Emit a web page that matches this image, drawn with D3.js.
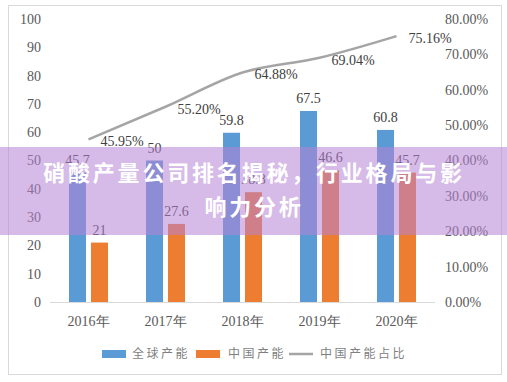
<!DOCTYPE html>
<html><head><meta charset="utf-8">
<script src="https://cdn.jsdelivr.net/npm/d3@7/dist/d3.min.js"></script>
<style>body{margin:0;background:#fff;}svg{display:block;}</style>
</head><body>
<svg id="chart" width="507" height="382"></svg>
<script>
const years = ["2016年","2017年","2018年","2019年","2020年"];
const globalCap = [45.7, 50, 59.8, 67.5, 60.8];
const chinaCap = [21, 27.6, 38.8, 46.6, 45.7];
const chinaShare = [0.4595, 0.5520, 0.6488, 0.6904, 0.7516];
const leftTicks = [0,10,20,30,40,50,60,70,80,90,100];
const rightTicks = [0,0.1,0.2,0.3,0.4,0.5,0.6,0.7,0.8];
const seriesNames = ["全球产能","中国产能","中国产能占比"];
const colors = ["#5b9bd5","#ed7d31","#a5a5a5"];
const titleLines = ["硝酸产量公司排名揭秘，行业格局与影","响力分析"];

const svg = d3.select("#chart");
const serif = "'Liberation Serif','DejaVu Serif',serif";
const cjk = "'Noto Sans CJK SC','Noto Sans',sans-serif";

svg.append("rect").attr("x",8.5).attr("y",5.5).attr("width",493).attr("height",369)
  .attr("fill","#fff").attr("stroke","#d9d9d9");

const x = d3.scaleBand().domain(years).range([50,435]);
const x1 = d3.scaleBand().domain(["g","c"]).range([19,58]).paddingInner(5/22);
const y = d3.scaleLinear().domain([0,100]).range([302,19]);
const y2 = d3.scaleLinear().domain([0,0.8]).range([302,19]);

// left axis labels
svg.append("g").selectAll("text").data(leftTicks).join("text")
  .attr("x",41).attr("y",d=>y(d)).attr("dy","0.35em").attr("text-anchor","end")
  .attr("font-family",serif).attr("font-size",14).attr("fill","#595959").text(d=>d);
// right axis labels
svg.append("g").selectAll("text").data(rightTicks).join("text")
  .attr("x",445).attr("y",d=>y2(d)).attr("dy","0.35em").attr("text-anchor","start")
  .attr("font-family",serif).attr("font-size",14).attr("fill","#595959").text(d=>d3.format(".2%")(d));

// baseline
svg.append("line").attr("x1",50).attr("x2",435).attr("y1",y(0)+0.5).attr("y2",y(0)+0.5)
  .attr("stroke","#d9d9d9");

// category labels
svg.append("g").selectAll("text").data(years).join("text")
  .attr("x",d=>x(d)+x.bandwidth()/2).attr("y",321).attr("dy","0.35em").attr("text-anchor","middle")
  .attr("font-family",serif).attr("font-size",14).attr("fill","#595959").text(d=>d);

// bars
const bars = svg.append("g");
years.forEach((yr,i)=>{
  [["g",globalCap[i],colors[0]],["c",chinaCap[i],colors[1]]].forEach(([k,v,c])=>{
    const bx = x(yr)+x1(k);
    bars.append("rect").attr("x",bx).attr("y",y(v)).attr("width",x1.bandwidth())
      .attr("height",y(0)-y(v)).attr("fill",c);
    bars.append("text").attr("x",bx+x1.bandwidth()/2).attr("y",y(v)-8)
      .attr("text-anchor","middle").attr("font-family",serif).attr("font-size",14)
      .attr("fill","#404040").text(v);
  });
});

// line
const pts = years.map((yr,i)=>[x(yr)+x.bandwidth()/2, y2(chinaShare[i])]);
svg.append("path").attr("d",d3.line().curve(d3.curveMonotoneX)(pts))
  .attr("fill","none").attr("stroke",colors[2]).attr("stroke-width",2.5);
svg.append("g").selectAll("text").data(years).join("text")
  .attr("x",(d,i)=>pts[i][0]+12).attr("y",(d,i)=>pts[i][1]+2).attr("dy","0.35em")
  .attr("font-family",serif).attr("font-size",14).attr("fill","#404040")
  .text((d,i)=>d3.format(".2%")(chinaShare[i]));

// legend
const lg = svg.append("g").attr("font-family",cjk).attr("font-size",12).attr("fill","#7f7f7f");
lg.append("rect").attr("x",102).attr("y",350).attr("width",24).attr("height",8).attr("fill",colors[0]);
lg.append("text").attr("x",132).attr("y",354).attr("dy","0.35em").attr("letter-spacing",2.5).text(seriesNames[0]);
lg.append("rect").attr("x",196).attr("y",350).attr("width",24).attr("height",8).attr("fill",colors[1]);
lg.append("text").attr("x",228).attr("y",354).attr("dy","0.35em").attr("letter-spacing",2.5).text(seriesNames[1]);
lg.append("line").attr("x1",289).attr("x2",313).attr("y1",354).attr("y2",354).attr("stroke",colors[2]).attr("stroke-width",2.5);
lg.append("text").attr("x",320).attr("y",354).attr("dy","0.35em").attr("letter-spacing",2.5).text(seriesNames[2]);

// overlay banner
svg.append("rect").attr("x",0).attr("y",147).attr("width",507).attr("height",88)
  .attr("fill","rgb(180,130,212)").attr("fill-opacity",0.55);
svg.append("g").selectAll("text").data(titleLines).join("text")
  .attr("x",254).attr("y",(d,i)=>173+i*34).attr("dy","0.35em").attr("text-anchor","middle")
  .attr("font-family",cjk).attr("font-weight","bold").attr("font-size",22)
  .attr("letter-spacing",2.8).attr("fill","#fff").text(d=>d);
</script>
</body></html>
